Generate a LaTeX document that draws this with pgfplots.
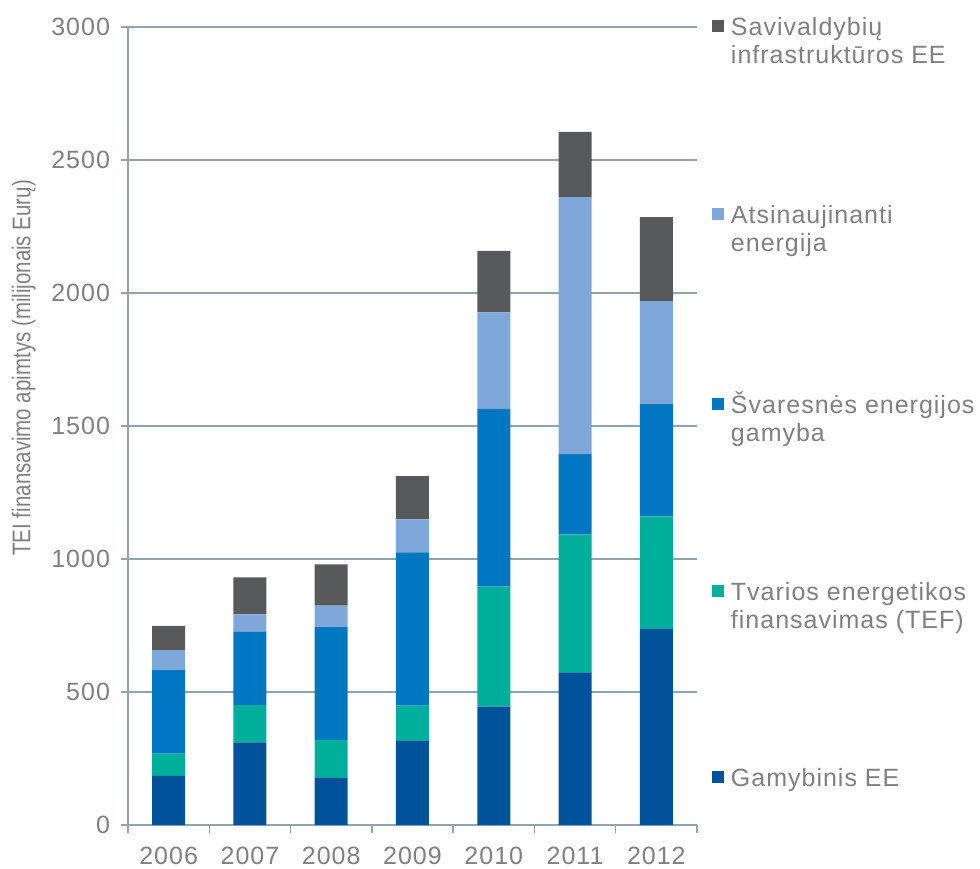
\documentclass[border=0pt]{standalone}
\usepackage{pgfplots}
\pgfplotsset{compat=1.18}
\usepackage{fontspec}
\setmainfont{Liberation Sans}[LetterSpace=4]
\newfontfamily\labelfont{Liberation Sans}[FakeStretch=0.80]
\definecolor{cGam}{HTML}{00529B}
\definecolor{cTef}{HTML}{00AE9C}
\definecolor{cSva}{HTML}{0077C0}
\definecolor{cAts}{HTML}{7FA7D9}
\definecolor{cSav}{HTML}{58595B}
\definecolor{axc}{HTML}{8FA3B0}
\definecolor{txt}{HTML}{808080}
\pgfplotsset{mylegend/.style={legend image code/.code={\fill[##1] (0pt,1.75pt) rectangle (6pt,7.75pt);}}}
\begin{document}
\begin{tikzpicture}
\begin{axis}[
  at={(0,0)}, anchor=south west,
  scale only axis, width=284.5pt, height=399pt,
  xmin=-0.5, xmax=6.5, ymin=0, ymax=3000,
  ybar stacked, bar width=16.5pt,
  axis x line*=bottom, axis y line*=left,
  axis line style={axc, line width=0.7pt, -},
  ymajorgrids, grid style={axc, line width=0.7pt},
  xtick={0,1,2,3,4,5,6},
  xticklabels={2006,2007,2008,2009,2010,2011,2012},
  minor xtick={-0.5,0.5,1.5,2.5,3.5,4.5,5.5,6.5},
  ytick={0,500,1000,1500,2000,2500,3000},
  tick align=outside,
  major tick length=3.5pt, minor tick length=4pt,
  tick style={axc, line width=0.7pt},
  major x tick style={draw=none},
  scaled ticks=false,
  /pgf/number format/assume math mode=true,
  /pgf/number format/1000 sep={},
  tick label style={font=\fontsize{12.5}{14}\selectfont, text=txt},
  yticklabel style={xshift=-2pt},
  xticklabel style={yshift=-4pt},
  ylabel={\labelfont TEI finansavimo apimtys (milijonais Eurų)},
  every axis y label/.style={at={(axis description cs:-0.183,0.573)}, rotate=90, anchor=center, font=\fontsize{12.8}{14}\selectfont, text=txt},
  reverse legend,
  legend style={draw=none, fill=none, at={(1,1)}, anchor=north west, xshift=7.5pt, yshift=5.5pt,
    inner sep=0pt, outer sep=0pt, row sep=82.5pt, column sep=3.5pt,
    font=\fontsize{12.5}{14}\selectfont, text=txt,
    cells={anchor=base west}, nodes={inner sep=0pt}},
]
\addplot[fill=cGam, draw=none, mylegend] coordinates {(0,185) (1,311) (2,177) (3,316) (4,445) (5,574) (6,737)};
\addlegendentry{Gamybinis EE}
\addplot[fill=cTef, draw=none, mylegend] coordinates {(0,83) (1,140) (2,143) (3,133) (4,451) (5,519) (6,423)};
\addlegendentry{\begin{tabular}[t]{@{}l@{}}Tvarios energetikos\\finansavimas (TEF)\end{tabular}}
\addplot[fill=cSva, draw=none, mylegend] coordinates {(0,314) (1,275) (2,424) (3,576) (4,668) (5,301) (6,422)};
\addlegendentry{\begin{tabular}[t]{@{}l@{}}Švaresnės energijos\\gamyba\end{tabular}}
\addplot[fill=cAts, draw=none, mylegend] coordinates {(0,75) (1,66) (2,81) (3,124) (4,363) (5,966) (6,387)};
\addlegendentry{\begin{tabular}[t]{@{}l@{}}Atsinaujinanti\\energija\end{tabular}}
\addplot[fill=cSav, draw=none, mylegend] coordinates {(0,92) (1,139) (2,155) (3,163) (4,231) (5,246) (6,316)};
\addlegendentry{\begin{tabular}[t]{@{}l@{}}Savivaldybių\\infrastruktūros EE\end{tabular}}
\end{axis}
\pgfresetboundingbox
\useasboundingbox (-64pt,-21.5pt) rectangle (426pt,412.5pt);
\end{tikzpicture}
\end{document}
